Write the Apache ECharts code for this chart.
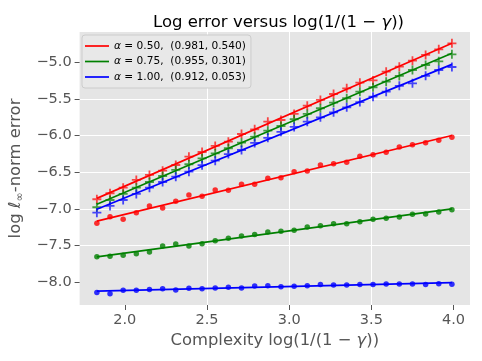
<!DOCTYPE html>
<html>
<head>
<meta charset="utf-8">
<script src="https://cdn.jsdelivr.net/npm/echarts@6/dist/echarts.min.js"></script>
<style>
  html, body { margin: 0; padding: 0; background: #fff; }
  #main { width: 482px; height: 361px; }
</style>
</head>
<body>
<div id="main"></div>
<script>
// complexity values log(1/(1-gamma))
var xs = [1.83, 1.91, 1.99, 2.07, 2.15, 2.23, 2.31, 2.39, 2.47, 2.55, 2.63, 2.71, 2.79, 2.87,
          2.95, 3.03, 3.11, 3.19, 3.27, 3.35, 3.43, 3.51, 3.59, 3.67, 3.75, 3.83, 3.91, 3.99];

// "+" markers (upper group)
var plusRed = [-6.869, -6.787, -6.711, -6.606, -6.538, -6.480, -6.402, -6.289, -6.225, -6.143, -6.084, -5.980, -5.916, -5.812,
               -5.789, -5.707, -5.594, -5.515, -5.435, -5.357, -5.281, -5.250, -5.131, -5.063, -4.981, -4.903, -4.826, -4.744];
var plusGreen = [-6.978, -6.879, -6.797, -6.711, -6.634, -6.552, -6.470, -6.392, -6.311, -6.243, -6.174, -6.098, -6.016, -5.935,
                 -5.871, -5.779, -5.707, -5.629, -5.553, -5.493, -5.403, -5.343, -5.267, -5.189, -5.108, -5.040, -4.990, -4.894];
var plusBlue = [-7.052, -6.960, -6.879, -6.797, -6.711, -6.634, -6.561, -6.493, -6.405, -6.343, -6.254, -6.198, -6.102, -6.032,
                -5.950, -5.884, -5.812, -5.752, -5.684, -5.616, -5.545, -5.471, -5.403, -5.324, -5.289, -5.187, -5.108, -5.067];

// dot markers (lower group)
var dotRed = [-7.196, -7.106, -7.142, -7.052, -6.960, -6.988, -6.896, -6.810, -6.828, -6.742, -6.747, -6.665, -6.665, -6.583,
              -6.575, -6.493, -6.484, -6.402, -6.384, -6.365, -6.283, -6.262, -6.229, -6.157, -6.125, -6.098, -6.065, -6.025];
var dotGreen = [-7.651, -7.646, -7.632, -7.610, -7.587, -7.505, -7.478, -7.505, -7.474, -7.433, -7.401, -7.369, -7.350, -7.315,
                -7.305, -7.292, -7.247, -7.229, -7.202, -7.202, -7.174, -7.142, -7.128, -7.110, -7.074, -7.070, -7.042, -7.011];
var dotBlue = [-8.141, -8.155, -8.109, -8.109, -8.100, -8.087, -8.105, -8.082, -8.087, -8.078, -8.068, -8.078, -8.050, -8.046,
               -8.060, -8.054, -8.046, -8.032, -8.037, -8.037, -8.032, -8.032, -8.023, -8.023, -8.023, -8.032, -8.019, -8.027];

var alphas = ['0.50', '0.75', '1.00'];
var fitPairs = ['(0.981, 0.540)', '(0.955, 0.301)', '(0.912, 0.053)'];
var colors = ['#FF0000', '#008000', '#0000FF'];

var xTicks = [2.0, 2.5, 3.0, 3.5, 4.0];
var yTicks = [-8.0, -7.5, -7.0, -6.5, -6.0, -5.5, -5.0];

var FONT = 'DejaVu Sans';
var PLUS = 'path://M0,4H10V6H0Z M4,0H6V10H4Z';

// least squares fit, returns the two end points of the line
function fitLine(x, y) {
  var n = x.length, sx = 0, sy = 0, sxx = 0, sxy = 0;
  for (var i = 0; i < n; i++) {
    sx += x[i]; sy += y[i]; sxx += x[i] * x[i]; sxy += x[i] * y[i];
  }
  var b = (n * sxy - sx * sy) / (n * sxx - sx * sx);
  var a = (sy - b * sx) / n;
  return [[x[0], a + b * x[0]], [x[n - 1], a + b * x[n - 1]]];
}

function pairs(y) {
  return xs.map(function (x, i) { return [x, y[i]]; });
}

function fmt(v) {
  return v.toFixed(1).replace('-', '\u2212');
}

var plusSets = [plusRed, plusGreen, plusBlue];
var dotSets = [dotRed, dotGreen, dotBlue];
var legendNames = alphas.map(function (a, i) { return 'α = ' + a + ',  ' + fitPairs[i]; });

var series = [];
for (var k = 0; k < 3; k++) {
  series.push({
    type: 'scatter', name: 'p' + k, data: pairs(plusSets[k]),
    symbol: PLUS, symbolSize: 9, silent: true,
    itemStyle: { color: colors[k], opacity: 0.7 }
  });
  series.push({
    type: 'scatter', name: 'd' + k, data: pairs(dotSets[k]),
    symbol: 'circle', symbolSize: 5.5, silent: true,
    itemStyle: { color: colors[k] }
  });
  series.push({
    type: 'line', name: legendNames[k], data: fitLine(xs, plusSets[k]),
    symbol: 'none', lineStyle: { color: colors[k], width: 1.7 }, itemStyle: { color: colors[k] }
  });
  series.push({
    type: 'line', name: legendNames[k] + ' ', data: fitLine(xs, dotSets[k]),
    symbol: 'none', lineStyle: { color: colors[k], width: 1.7 }, itemStyle: { color: colors[k] }
  });
}

var chart = echarts.init(document.getElementById('main'));
var option = {
  animation: false,
  title: {
    text: 'Log error versus log(1/(1 \u2212 {g|γ}))',
    left: 273.5, top: 9, textAlign: 'center',
    textStyle: {
      fontFamily: FONT, fontSize: 16.5, fontWeight: 'normal', color: '#000',
      rich: { g: { fontFamily: FONT, fontSize: 16.5, fontStyle: 'italic', color: '#000' } }
    }
  },
  legend: {
    data: legendNames,
    left: 82, top: 35, orient: 'vertical',
    icon: 'rect', itemWidth: 24, itemHeight: 1.7, itemGap: 1.5,
    padding: [4, 5, 4, 3],
    backgroundColor: '#E8E8E8', borderColor: '#CCCCCC', borderWidth: 1, borderRadius: 3,
    formatter: function (name) { return name.replace('α', '{i|α}'); },
    textStyle: {
      fontFamily: FONT, fontSize: 10.6, lineHeight: 14, color: '#000',
      rich: { i: { fontFamily: FONT, fontSize: 10.6, lineHeight: 14, fontStyle: 'italic', color: '#000' } }
    }
  },
  grid: {
    left: 77, right: 12, top: 32, bottom: 56,
    show: true, backgroundColor: '#E5E5E5', borderWidth: 0
  },
  xAxis: {
    type: 'value', min: 1.725, max: 4.1, splitNumber: 5,
    name: 'Complexity log(1/(1 \u2212 {g|γ}))',
    nameLocation: 'middle', nameGap: 27,
    nameTextStyle: {
      fontFamily: FONT, fontSize: 16.4, color: '#555',
      rich: { g: { fontFamily: FONT, fontSize: 16.4, fontStyle: 'italic', color: '#555' } }
    },
    axisLine: { show: false },
    axisTick: { show: true, length: 5, customValues: xTicks, lineStyle: { color: '#555' } },
    axisLabel: { customValues: xTicks, margin: 8, formatter: fmt, fontFamily: FONT, fontSize: 14.5, color: '#555' },
    splitLine: { show: true, showMinLine: false, showMaxLine: false, lineStyle: { color: '#FFFFFF', width: 1 } }
  },
  yAxis: {
    type: 'value', min: -8.31, max: -4.59, splitNumber: 7,
    name: '{n|log ℓ}{s|∞}{n|-norm error}',
    nameLocation: 'middle', nameGap: 47, nameRotate: 90,
    nameTextStyle: {
      fontFamily: FONT, fontSize: 16.4, color: '#555',
      rich: {
        n: { fontFamily: FONT, fontSize: 16.4, color: '#555' },
        s: { fontFamily: FONT, fontSize: 11, color: '#555', padding: [8, 0, 0, 0] }
      }
    },
    axisLine: { show: false },
    axisTick: { show: true, length: 5, customValues: yTicks, lineStyle: { color: '#555' } },
    axisLabel: { customValues: yTicks, margin: 8, formatter: fmt, fontFamily: FONT, fontSize: 14.5, color: '#555' },
    splitLine: { show: true, showMinLine: false, showMaxLine: false, lineStyle: { color: '#FFFFFF', width: 1 } }
  },
  series: series
};
chart.setOption(option);
</script>
</body>
</html>
